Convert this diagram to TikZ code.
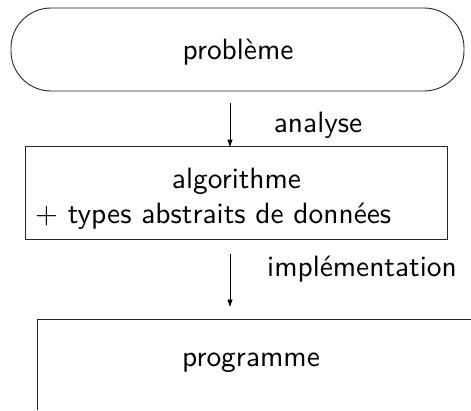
\documentclass[tikz,border=0pt]{standalone}
\usetikzlibrary{arrows.meta}
% text is set in 10pt Latin Modern Sans and enlarged
\newcommand{\bigtxt}[1]{\scalebox{2.94}{\sffamily\fontsize{10}{12}\selectfont #1}}
\begin{document}
\begin{tikzpicture}[x=1pt,y=-1pt,
  every node/.style={inner sep=0pt},
  frame/.style={draw=black!85, line width=0.9pt},
  arr/.style={draw=black, line width=0.9pt, -{Latex[length=8pt,width=5.5pt]}}]
  \useasboundingbox (0,0) rectangle (471,410);

  % starting point: the problem (stadium shape)
  \node[frame, rounded corners=40pt, minimum width=453pt, minimum height=83pt]
    (prob) at (237.5,49.5) {};
  \node (probtxt) at (238,52) {\bigtxt{problème}};

  % algorithm and abstract data types
  \node[frame, minimum width=422pt, minimum height=93pt] (algo) at (236,192.5) {};
  \node (algoA) at (236.5,181) {\bigtxt{algorithme}};
  \node[anchor=west] (algoB) at (35,216) {\bigtxt{$+$ types abstraits de données}};

  % program: open frame with left and top edges only
  \coordinate (progTL) at (37,319.5);
  \coordinate (progBL) at (37,410);
  \coordinate (progTR) at (471,319.5);
  \draw[frame] (progBL) -- (progTL) -- (progTR);
  \node (prog) at (251,363) {\bigtxt{programme}};

  % transitions
  \coordinate (ax) at (230,0);
  \draw[arr, shorten <=12pt, shorten >=-2pt] (prob.south -| ax) -- (algo.north -| ax);
  \node (lblA) at (318,125) {\bigtxt{analyse}};
  \draw[arr, shorten <=15pt, shorten >=12pt] (algo.south -| ax) -- (progTL -| ax);
  \node (lblB) at (362,269) {\bigtxt{implémentation}};
\end{tikzpicture}
\end{document}
